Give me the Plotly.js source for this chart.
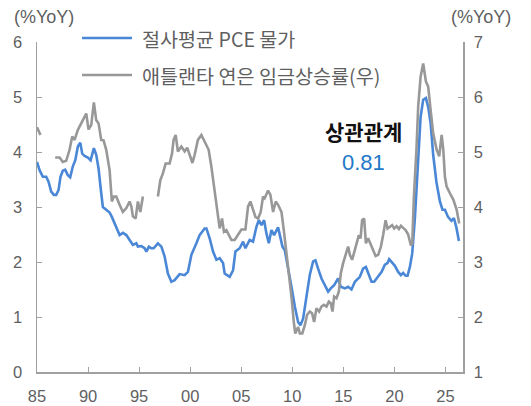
<!DOCTYPE html>
<html><head><meta charset="utf-8">
<script src="https://cdn.plot.ly/plotly-3.0.1.min.js"></script>
<style>html,body{margin:0;padding:0;background:#fff}#chart{width:531px;height:406px}</style>
</head><body><div id="chart"></div>
<script>
// Trimmed-mean PCE (left axis, %YoY)
const pceYears = [1985.00,1985.25,1985.57,1985.90,1986.13,1986.39,1986.65,1986.88,1987.11,1987.30,1987.53,1987.76,1988.02,1988.25,1988.51,1988.75,1989.00,1989.24,1989.43,1989.66,1989.98,1990.25,1990.37,1990.57,1990.80,1991.03,1991.23,1991.45,1991.78,1992.11,1992.33,1992.60,1992.92,1993.09,1993.41,1993.75,1994.07,1994.39,1994.73,1994.88,1995.22,1995.54,1995.71,1995.96,1996.20,1996.42,1996.84,1997.18,1997.50,1997.82,1998.16,1998.48,1998.97,1999.29,1999.46,1999.78,2000.12,2000.61,2000.93,2001.42,2001.59,2001.91,2002.24,2002.57,2002.89,2003.22,2003.38,2003.87,2004.20,2004.43,2004.85,2005.18,2005.41,2005.83,2006.16,2006.49,2006.72,2006.98,2007.24,2007.47,2007.70,2007.96,2008.22,2008.61,2008.84,2009.04,2009.26,2009.59,2009.92,2010.25,2010.57,2010.80,2011.06,2011.39,2011.72,2012.04,2012.27,2012.53,2012.86,2013.19,2013.51,2013.77,2014.10,2014.49,2014.75,2015.15,2015.47,2015.80,2016.13,2016.62,2016.94,2017.21,2017.43,2017.76,2018.02,2018.41,2018.75,2019.07,2019.33,2019.49,2019.78,2020.05,2020.37,2020.64,2020.86,2021.10,2021.29,2021.52,2021.75,2022.01,2022.33,2022.57,2022.82,2023.09,2023.31,2023.55,2023.80,2024.12,2024.46,2024.71,2024.95,2025.25,2025.59,2025.83,2026.08,2026.32];
const pceValues = [3.82,3.67,3.55,3.55,3.46,3.28,3.22,3.22,3.31,3.55,3.66,3.68,3.58,3.54,3.74,3.85,4.10,4.17,3.97,3.93,3.90,3.85,3.93,4.07,3.95,3.70,3.35,3.00,2.95,2.90,2.82,2.70,2.55,2.49,2.53,2.49,2.40,2.31,2.34,2.28,2.29,2.25,2.19,2.28,2.25,2.25,2.34,2.28,2.10,1.79,1.64,1.67,1.78,1.76,1.76,1.82,2.13,2.34,2.49,2.61,2.61,2.43,2.19,2.04,2.07,1.98,1.79,1.73,1.85,2.19,2.25,2.37,2.25,2.40,2.37,2.64,2.76,2.67,2.76,2.52,2.34,2.58,2.49,2.63,2.46,2.28,2.22,1.91,1.55,1.19,0.91,0.85,0.97,1.37,1.77,2.01,2.03,1.88,1.70,1.58,1.46,1.52,1.58,1.70,1.55,1.52,1.55,1.50,1.64,1.73,1.88,1.91,1.79,1.64,1.64,1.73,1.82,1.95,1.98,2.05,1.98,1.93,1.82,1.76,1.80,1.75,1.75,1.91,2.16,2.80,3.85,4.64,4.95,4.98,4.82,4.52,3.95,3.45,3.10,2.95,2.95,2.82,2.75,2.80,2.62,2.38];

// Atlanta Fed wage growth tracker (right axis, %YoY); null = gap in series
const wageYears = [1985.00,1985.34,1985.90,1986.78,1987.21,1987.53,1987.86,1988.19,1988.45,1988.68,1989.00,1989.33,1989.59,1989.82,1990.05,1990.31,1990.57,1990.80,1991.03,1991.29,1991.52,1991.78,1992.11,1992.33,1992.53,1992.76,1993.09,1993.41,1993.75,1994.07,1994.24,1994.39,1994.66,1994.88,1995.12,1995.37,1996.00,1996.84,1997.08,1997.33,1997.60,1997.99,1998.22,1998.38,1998.58,1998.80,1999.14,1999.46,1999.71,1999.95,2000.22,2000.44,2000.76,2001.10,2001.42,2001.81,2002.08,2002.40,2002.73,2002.89,2003.12,2003.31,2003.55,2003.77,2004.04,2004.36,2004.69,2005.02,2005.41,2005.67,2005.90,2006.16,2006.39,2006.65,2006.91,2007.14,2007.30,2007.63,2007.86,2008.12,2008.38,2008.61,2008.94,2009.17,2009.43,2009.69,2009.92,2010.15,2010.29,2010.57,2010.74,2010.98,2011.23,2011.45,2011.72,2011.94,2012.14,2012.37,2012.63,2012.86,2013.09,2013.35,2013.58,2013.77,2013.94,2014.10,2014.33,2014.56,2014.75,2014.98,2015.22,2015.47,2015.64,2015.86,2016.13,2016.39,2016.52,2016.69,2016.84,2017.04,2017.21,2017.43,2017.70,2017.92,2018.16,2018.41,2018.68,2018.90,2019.14,2019.33,2019.56,2019.78,2019.98,2020.22,2020.44,2020.64,2020.86,2021.10,2021.35,2021.62,2021.75,2021.91,2022.16,2022.33,2022.57,2022.82,2023.09,2023.31,2023.55,2023.80,2024.14,2024.39,2024.63,2024.79,2024.95,2025.12,2025.44,2025.78,2026.10,2026.35];
const wageValues = [5.45,5.31,null,4.90,4.90,4.82,4.84,5.04,5.28,5.22,5.40,5.52,5.63,5.70,5.41,5.49,5.90,5.58,5.52,5.22,5.21,5.04,4.67,4.10,4.19,4.19,4.04,3.91,3.98,4.10,4.01,3.83,3.79,4.10,3.91,4.19,null,4.19,4.49,4.61,4.79,4.79,4.97,5.22,5.31,5.01,5.10,5.01,5.08,4.95,4.80,4.95,5.22,5.31,5.19,5.04,4.73,4.25,3.82,3.61,3.79,3.55,3.58,3.49,3.40,3.40,3.49,3.59,3.59,4.01,4.10,3.95,3.82,3.79,3.91,4.19,4.16,4.30,4.22,3.91,4.10,4.04,3.91,3.58,3.16,2.79,2.37,1.91,1.70,1.82,1.70,1.70,1.85,2.04,2.10,2.07,1.91,2.16,2.10,2.19,2.22,2.19,2.28,2.25,2.10,2.37,2.34,2.46,2.79,2.98,3.13,3.28,3.13,3.04,3.22,3.40,3.49,3.43,3.76,3.79,3.34,3.43,3.31,3.19,3.11,3.13,3.28,3.49,3.76,3.61,3.64,3.67,3.61,3.65,3.60,3.66,3.62,3.58,3.50,3.30,3.34,4.19,5.04,5.82,6.37,6.61,6.28,6.19,5.76,5.34,5.04,4.92,5.31,5.04,4.55,4.37,4.25,4.13,3.95,3.70];

const xTickVals = [1985,1990,1995,2000,2005,2010,2015,2020,2025];
const xTickText = ['85','90','95','00','05','10','15','20','25'];
const leftTicks = [0,1,2,3,4,5,6];
const rightTicks = [1,2,3,4,5,6,7];
const seriesNames = ['절사평균 PCE 물가','애틀랜타 연은 임금상승률(우)'];
const corrLabel = '상관관계';
const corrValue = '0.81';

const BLUE = '#4a87d6', GRAY = '#989898', AX = '#a0a0a0', TXT = '#5f5f5f';
const FONT = 'Noto Sans CJK KR, Noto Sans, sans-serif';
const NUMFONT = 'Liberation Sans, Arial, sans-serif';

const traces = [
  {x: pceYears, y: pceValues, type: 'scatter', mode: 'lines', name: seriesNames[0],
   line: {color: BLUE, width: 2.6}, yaxis: 'y'},
  {x: wageYears, y: wageValues, type: 'scatter', mode: 'lines', name: seriesNames[1],
   line: {color: GRAY, width: 2.6}, yaxis: 'y2', connectgaps: false}
];

const tickFont = {family: NUMFONT, size: 16.5, color: TXT};

const layout = {
  width: 531, height: 406,
  margin: {l: 37, r: 68, t: 42, b: 34, pad: 0},
  paper_bgcolor: '#fff', plot_bgcolor: '#fff',
  showlegend: false,
  font: {family: FONT, size: 15, color: TXT},
  xaxis: {range: [1985, 2026.72], tickvals: xTickVals, ticktext: xTickText,
    showgrid: false, zeroline: false, showline: true, linecolor: AX, linewidth: 1.5,
    ticks: 'inside', ticklen: 5, tickcolor: AX, tickwidth: 1,
    tickfont: tickFont, ticklabelstandoff: 9},
  yaxis: {range: [0, 6], tickvals: leftTicks, showgrid: false, zeroline: false,
    showline: true, linecolor: AX, linewidth: 1.5, ticks: 'inside', ticklen: 5,
    tickcolor: AX, tickfont: tickFont, ticklabelstandoff: 10},
  yaxis2: {range: [1, 7], tickvals: rightTicks, overlaying: 'y', side: 'right',
    showgrid: false, zeroline: false, showline: true, linecolor: AX, linewidth: 1.5,
    ticks: 'inside', ticklen: 5, tickcolor: AX,
    tickfont: tickFont, ticklabelstandoff: 6},
  shapes: [
    {type: 'line', xref: 'paper', yref: 'paper', x0: 0.1056, x1: 0.223, y0: 1.012, y1: 1.012,
     line: {color: BLUE, width: 2.6}},
    {type: 'line', xref: 'paper', yref: 'paper', x0: 0.1056, x1: 0.223, y0: 0.900, y1: 0.900,
     line: {color: GRAY, width: 2.6}}
  ],
  annotations: [
    {xref: 'paper', yref: 'paper', x: 0.2418, y: 1.012, xanchor: 'left', yanchor: 'middle',
     text: seriesNames[0], showarrow: false, font: {family: FONT, size: 19.6, color: TXT}},
    {xref: 'paper', yref: 'paper', x: 0.2418, y: 0.900, xanchor: 'left', yanchor: 'middle',
     text: seriesNames[1], showarrow: false, font: {family: FONT, size: 19.6, color: TXT}},
    {xref: 'paper', yref: 'paper', x: 0.7676, y: 0.730, xanchor: 'center', yanchor: 'middle',
     text: '<b>' + corrLabel + '</b>', showarrow: false, font: {family: FONT, size: 21, color: '#111'}},
    {xref: 'paper', yref: 'paper', x: 0.7653, y: 0.636, xanchor: 'center', yanchor: 'middle',
     text: corrValue, showarrow: false, font: {family: NUMFONT, size: 22, color: '#1f78c8'}},
    {xref: 'paper', yref: 'paper', x: 0.0164, y: 1.076, xanchor: 'center', yanchor: 'middle',
     text: '(%YoY)', showarrow: false, font: {family: NUMFONT, size: 18, color: TXT}},
    {xref: 'paper', yref: 'paper', x: 1.042, y: 1.076, xanchor: 'center', yanchor: 'middle',
     text: '(%YoY)', showarrow: false, font: {family: NUMFONT, size: 18, color: TXT}}
  ]
};

Plotly.newPlot('chart', traces, layout, {displayModeBar: false, staticPlot: true});
</script></body></html>
